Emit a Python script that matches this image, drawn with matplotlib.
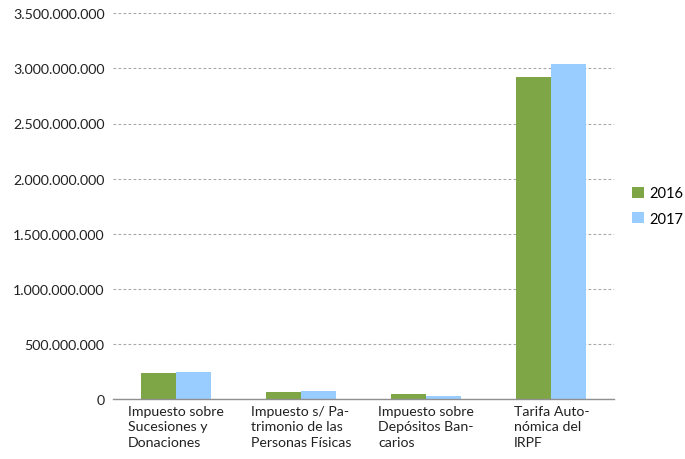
import matplotlib
matplotlib.use("Agg")
import matplotlib.pyplot as plt
import numpy as np
from matplotlib.ticker import FuncFormatter

categories = ["Impuesto sobre\nSucesiones y\nDonaciones",
              "Impuesto s/ Pa-\ntrimonio de las\nPersonas Físicas",
              "Impuesto sobre\nDepósitos Ban-\ncarios",
              "Tarifa Auto-\nnómica del\nIRPF"]
series_names = ["2016", "2017"]
values_2016 = [238e6, 66e6, 48e6, 2920e6]
values_2017 = [248e6, 75e6, 30e6, 3038e6]
colors = ["#7EA646", "#99CCFF"]

plt.rcParams['font.family'] = ['Lato', 'DejaVu Sans']

fig = plt.figure(figsize=(6.85, 4.6), dpi=100)
ax = fig.add_axes([113/685, 60/460, (614-113)/685, (400-14.3)/460])

x = np.arange(len(categories))
w = 0.28
ax.bar(x - w/2, values_2016, w, color=colors[0], label=series_names[0], zorder=3)
ax.bar(x + w/2, values_2017, w, color=colors[1], label=series_names[1], zorder=3)

ax.set_xlim(-0.5, len(categories) - 0.5)
ax.set_ylim(0, 3.5e9)
ax.set_yticks(np.arange(0, 3.5e9 + 1, 5e8))
ax.yaxis.set_major_formatter(FuncFormatter(lambda v, p: f"{int(round(v)):,}".replace(",", ".")))
ax.yaxis.grid(True, linestyle=(0, (2.5, 2)), color="#A8A8A8", linewidth=0.8, zorder=0)
ax.set_xticks(x)
ax.set_xticklabels(categories, multialignment="left", linespacing=1.35)
ax.tick_params(axis="x", length=0, pad=4, labelsize=10.2, colors="#222222")
ax.tick_params(axis="y", length=0, pad=6, labelsize=10.2, colors="#222222")
for s in ["top", "right", "left"]:
    ax.spines[s].set_visible(False)
ax.spines["bottom"].set_color("#909090")
ax.spines["bottom"].set_linewidth(1.0)
ax.spines["bottom"].set_zorder(4)

leg = ax.legend(loc="center left", bbox_to_anchor=(632/685, 1 - 207/460), bbox_transform=fig.transFigure,
                frameon=False, fontsize=10.5, handlelength=0.8, handleheight=0.8,
                handletextpad=0.4, labelspacing=0.8, borderpad=0, borderaxespad=0)

fig.savefig("out.png", dpi=100)
